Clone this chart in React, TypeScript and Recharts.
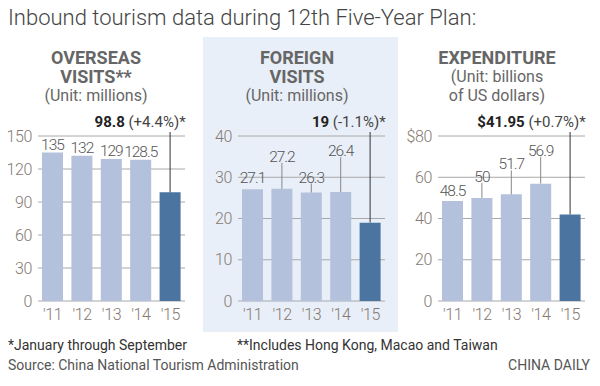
import React from "react";
import { BarChart, Bar, XAxis, YAxis, CartesianGrid, Cell, LabelList } from "recharts";

const years = ["'11", "'12", "'13", "'14", "'15"];
const overseas = [135, 132, 129, 128.5, 98.8];
const foreign = [27.1, 27.2, 26.3, 26.4, 19];
const expenditure = [48.5, 50, 51.7, 56.9, 41.95];

const overseasTicks = [0, 30, 60, 90, 120, 150];
const foreignTicks = [0, 10, 20, 30, 40];
const expenditureTicks = [0, 20, 40, 60, 80];

const changes = ["+4.4%", "-1.1%", "+0.7%"];

const FONT = "Roboto, 'Noto Sans', sans-serif";
const TICK = "#857a72";
const LIGHT = "#b3c1dc";
const DARK = "#4b74a1";

// how far each value label sits above its bar (px), per panel
const lifts = [
  [2, 2, 2, 2],
  [5, 26, 9, 35],
  [4, 15, 24, 27],
];

type PanelProps = {
  values: number[];
  ticks: number[];
  lift: number[];
  change: string;
  prefix: string;
  left: number;
};

function Panel({ values, ticks, lift, change, prefix, left }: PanelProps) {
  const data = years.map((year, i) => ({ year, value: values[i] }));
  const max = ticks[ticks.length - 1];

  const renderLabel = (props: any) => {
    const { x, y, width, value, index } = props;
    const cx = x + width / 2;
    if (index === values.length - 1) {
      return (
        <g>
          <line x1={cx} x2={cx} y1={y} y2={32} stroke="#333" strokeWidth={1} />
          <text x={x + width + 5} y={27} textAnchor="end" fontSize={15} fill="#222">
            <tspan fontWeight={700}>{prefix + value}</tspan>
            <tspan fill="#444"> ({change})*</tspan>
          </text>
        </g>
      );
    }
    const l = lift[index];
    return (
      <g>
        {l > 6 && <line x1={cx} x2={cx} y1={y} y2={y - l} stroke="#888" strokeWidth={1} />}
        <text
          x={cx}
          y={y - l - 1}
          textAnchor="middle"
          fontSize={15.5}
          fontWeight={300}
          letterSpacing={-1}
          fill="#555"
        >
          {value}
        </text>
      </g>
    );
  };

  const tickStyle = { fill: TICK, fontSize: 16, fontWeight: 300, letterSpacing: -0.4 };

  return (
    <div style={{ position: "absolute", left, top: 100 }}>
      <BarChart
        width={200}
        height={231}
        data={data}
        margin={{ top: 36, right: 15, left: 0, bottom: 0 }}
        barSize={21}
      >
        <CartesianGrid vertical={false} stroke="#a8a8a8" />
        <XAxis dataKey="year" axisLine={false} tickLine={false} tick={tickStyle} />
        <YAxis
          domain={[0, max]}
          ticks={ticks}
          axisLine={false}
          tickLine={false}
          width={38}
          tickMargin={0}
          tick={tickStyle}
          tickFormatter={(v) => (prefix && v === max ? prefix + v : String(v))}
        />
        <Bar dataKey="value" isAnimationActive={false}>
          {data.map((d, i) => (
            <Cell key={d.year} fill={i === data.length - 1 ? DARK : LIGHT} />
          ))}
          <LabelList dataKey="value" content={renderLabel} />
        </Bar>
      </BarChart>
    </div>
  );
}

const header: React.CSSProperties = {
  position: "absolute",
  width: 200,
  textAlign: "center",
  color: "#666",
  lineHeight: "19px",
};

export default function App() {
  return (
    <div
      style={{
        position: "relative",
        width: 600,
        height: 386,
        margin: -8,
        background: "#fff",
        fontFamily: FONT,
        overflow: "hidden",
      }}
    >
      <div
        style={{
          position: "absolute",
          left: 8,
          top: 5,
          fontSize: 22,
          fontWeight: 300,
          color: "#444",
        }}
      >
        Inbound tourism data during 12th Five-Year Plan:
      </div>
      <div
        style={{
          position: "absolute",
          left: 203,
          top: 37,
          width: 195,
          height: 295,
          background: "#e9eff8",
        }}
      />

      <div style={{ ...header, left: -4, top: 48 }}>
        <div style={{ fontWeight: 700, fontSize: 18 }}>OVERSEAS</div>
        <div style={{ fontWeight: 700, fontSize: 18 }}>VISITS**</div>
        <div style={{ fontSize: 16 }}>(Unit: millions)</div>
      </div>
      <div style={{ ...header, left: 197, top: 48 }}>
        <div style={{ fontWeight: 700, fontSize: 18 }}>FOREIGN</div>
        <div style={{ fontWeight: 700, fontSize: 18 }}>VISITS</div>
        <div style={{ fontSize: 16 }}>(Unit: millions)</div>
      </div>
      <div style={{ ...header, left: 397, top: 48 }}>
        <div style={{ fontWeight: 700, fontSize: 18 }}>EXPENDITURE</div>
        <div style={{ fontSize: 16 }}>(Unit: billions</div>
        <div style={{ fontSize: 16 }}>of US dollars)</div>
      </div>

      <Panel values={overseas} ticks={overseasTicks} lift={lifts[0]} change={changes[0]} prefix="" left={0} />
      <Panel values={foreign} ticks={foreignTicks} lift={lifts[1]} change={changes[1]} prefix="" left={200} />
      <Panel values={expenditure} ticks={expenditureTicks} lift={lifts[2]} change={changes[2]} prefix="$" left={400} />

      <div style={{ position: "absolute", left: 8, top: 337, fontSize: 14, color: "#333" }}>
        *January through September
      </div>
      <div style={{ position: "absolute", left: 237, top: 337, fontSize: 14, color: "#333" }}>
        **Includes Hong Kong, Macao and Taiwan
      </div>
      <div style={{ position: "absolute", left: 8, top: 357, fontSize: 14, color: "#555" }}>
        Source: China National Tourism Administration
      </div>
      <div style={{ position: "absolute", right: 10, top: 357, fontSize: 14, color: "#555" }}>
        CHINA DAILY
      </div>
    </div>
  );
}
